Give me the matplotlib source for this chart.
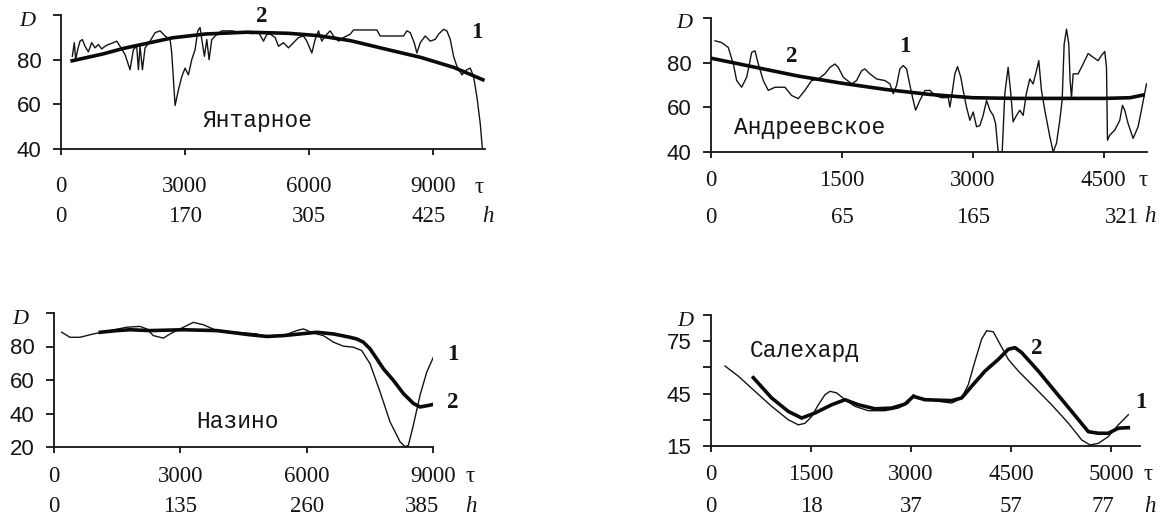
import matplotlib
matplotlib.use('Agg')
import matplotlib.pyplot as plt

# ---- data: thin curve (1) and thick curve (2) for each station ----
yant_t1 = [274, 322, 355, 403, 460, 516, 581, 661, 742, 823, 903, 984, 1064, 1145, 1266, 1347, 1427,
           1548, 1669, 1750, 1830, 1871, 1911, 1968, 2032, 2153, 2274, 2395, 2516, 2637, 2677, 2758,
           2838, 2919, 3000, 3080, 3161, 3242, 3306, 3362, 3403, 3467, 3524, 3580, 3645, 3726, 3887,
           4129, 4371, 4613, 4774, 4895, 4976, 5056, 5177, 5258, 5378, 5499, 5620, 5741, 5862, 5943,
           6064, 6144, 6225, 6306, 6386, 6507, 6588, 6709, 6830, 6991, 7072, 7314, 7636, 7717, 8039,
           8281, 8362, 8443, 8539, 8604, 8685, 8805, 8926, 9047, 9127, 9248, 9329, 9410, 9490, 9571,
           9692, 9813, 9894, 9974, 10055, 10136, 10184]
yant_d1 = [81.5, 87.6, 80, 84.5, 88.3, 89, 86, 83.5, 87.6, 85.3, 86.8, 84.8, 86, 86.8, 87.6, 88.3, 86,
           82.3, 75.5, 84.5, 86, 75.5, 86, 75.5, 85.3, 88.3, 92.1, 92.9, 90.6, 89.1, 83, 59.5,
           66.4, 72.4, 76.2, 73.2, 80, 84.5, 92.9, 94.4, 89.1, 81.5, 89, 80, 89, 90.6, 92.9,
           92.9, 92.1, 91.7, 92.3, 88.3, 91.3, 91.5, 89.9, 86, 87.6, 85.3, 87.6, 89.9, 90.6, 88.3,
           83, 89.1, 92.9, 88.3, 90.6, 92.9, 90.6, 88.3, 89.9, 91.4, 93.3, 93.3, 93.3, 90.6, 90.6,
           90.6, 92.9, 92.1, 87.6, 83, 87.6, 90.6, 88.3, 89.1, 91.4, 93.6, 92.9, 89.1, 81.5, 77,
           73.2, 75.5, 76.2, 72.4, 63.3, 51.2, 40.6]
yant_t2 = [270, 1000, 1500, 2000, 2700, 3500, 4500, 5500, 6200, 7000, 7900, 8700, 9500, 10200]
yant_d2 = [79.5, 82.5, 85, 87, 89.8, 91.5, 92.3, 91.8, 90.8, 88.5, 84.5, 81, 76.5, 71]

andr_t1 = [46, 122, 198, 256, 294, 351, 409, 466, 504, 542, 599, 656, 733, 847, 924, 1000, 1076, 1153,
           1229, 1305, 1363, 1420, 1458, 1515, 1611, 1668, 1725, 1763, 1820, 1897, 1992, 2050, 2088,
           2126, 2164, 2202, 2241, 2279, 2317, 2344, 2393, 2450, 2508, 2565, 2641, 2718, 2737, 2763,
           2794, 2824, 2862, 2889, 2927, 2966, 3004, 3042, 3080, 3118, 3157, 3195, 3233, 3260, 3290,
           3336, 3366, 3404, 3435, 3461, 3500, 3538, 3576, 3614, 3652, 3690, 3729, 3755, 3786, 3824,
           3882, 3920, 3958, 3996, 4023, 4046, 4073, 4099, 4114, 4130, 4149, 4206, 4263, 4321, 4378,
           4435, 4473, 4511, 4531, 4542, 4569, 4626, 4683, 4714, 4740, 4778, 4836, 4893, 4931, 4989]
andr_d1 = [89.8, 89, 86.8, 79.4, 72, 69, 73.5, 84.6, 85.3, 79.4, 72, 67.6, 69, 69, 65.3, 63.9, 67.6, 72,
           72.7, 75, 77.9, 79.4, 77.9, 73.5, 70.5, 72, 76.4, 77.2, 75, 72.7, 72, 70.5, 66.1,
           69.8, 77.2, 78.7, 77.2, 69.8, 63.1, 58.7, 63.1, 67.5, 67.6, 65.3, 64.3, 64.4, 60.1, 66.6,
           75, 78.2, 73.5, 67.6, 60.1, 54.2, 57.9, 51.3, 51.8, 56.4, 63.1, 58.7, 56.4, 52.8, 40,
           40, 66.1, 77.9, 66, 53.5, 56.4, 58.7, 56.4, 66.4, 72.7, 70.5, 76.4, 80.9, 67.6, 58.7,
           46.8, 40, 43.9, 54.2, 63.3, 88.3, 95, 88.3, 72, 64.4, 75, 75, 79.4, 84.1, 82.4,
           80.9, 83.2, 85, 77.9, 45.3, 47.6, 49.8, 54.2, 60.9, 58.7, 52.8, 46.1, 51.3, 58.7, 70.5]
andr_t2 = [0, 500, 1000, 1500, 2000, 2500, 3000, 3500, 4000, 4500, 4800, 4950]
andr_d2 = [82, 78, 74, 70.8, 68, 65.8, 64.3, 64, 64, 64, 64.3, 65.5]

naz_t1 = [182, 380, 617, 934, 1330, 1726, 2043, 2201, 2359, 2597, 2755, 3071, 3309, 3546, 3863, 4339,
          4814, 5052, 5448, 5764, 5922, 6160, 6397, 6635, 6872, 7109, 7307, 7505, 7743, 7980, 8218,
          8336, 8415, 8534, 8693, 8851, 9009]
naz_d1 = [88.5, 85.5, 85.5, 87.5, 89.5, 91.5, 92, 90.5, 86.5, 85, 87.5, 91.5, 94.4, 93, 89.5, 88.5,
          87.5, 85.5, 86.5, 89.5, 90.5, 88, 86.5, 82.6, 80.2, 79.6, 77.6, 69.7, 52.9, 35, 23.1,
          20.2, 21, 33.1, 51, 64.7, 73.6]
naz_t2 = [1100, 1488, 1805, 2280, 3071, 3863, 4655, 5052, 5448, 6239, 6635, 7030, 7188, 7346, 7505,
          7664, 7822, 8059, 8297, 8534, 8693, 8930, 9009]
naz_d2 = [88.5, 89.5, 90, 89.5, 90, 89.5, 87, 86, 86.5, 88.5, 87.5, 85.5, 84.5, 82.6, 78.6,
          72.7, 66.7, 59.8, 51.9, 46, 43.9, 45, 45.5]

sal_t1 = [210, 410, 660, 910, 1160, 1310, 1410, 1510, 1610, 1710, 1785, 1885, 2010, 2160, 2360, 2610,
          2810, 2960, 3035, 3110, 3410, 3610, 3760, 3860, 3960, 4060, 4135, 4235, 4335, 4460, 4610,
          4860, 5110, 5360, 5560, 5685, 5810, 5960, 6110, 6260]
sal_d1 = [60.8, 55, 46.3, 37.7, 30, 27.1, 28, 31.9, 38.6, 44.4, 46.3, 45.4, 41.5, 37.7, 35.2, 35.2,
          36.7, 39.6, 44.4, 42.5, 40.6, 39.6, 42.5, 50.2, 63.6, 76.2, 81, 80.4, 73.3, 64.6, 57.9,
          48.3, 38.6, 28.1, 18.5, 15.6, 16.5, 20.4, 27.1, 32.9]
sal_t2 = [635, 910, 1160, 1360, 1560, 1810, 2010, 2210, 2460, 2710, 2910, 3035, 3210, 3610, 3760, 3910,
          4110, 4310, 4460, 4560, 4660, 4910, 5160, 5410, 5660, 5810, 5960, 6110, 6260]
sal_d2 = [54.1, 42.5, 34.8, 31, 33.9, 38.6, 41.5, 38.6, 36.3, 36.7, 39, 43.4, 41.5, 41, 42.5, 49.2,
          57.9, 64.6, 70.4, 71.3, 68.5, 57.9, 46.3, 34.8, 23.2, 22.3, 22.3, 25.2, 25.5]

# tick labels: tau row and h row
yant_ticks, yant_tau, yant_h = [0, 3000, 6000, 9000], ['0', '3000', '6000', '9000'], ['0', '170', '305', '425']
andr_ticks, andr_tau, andr_h = [0, 1500, 3000, 4500], ['0', '1500', '3000', '4500'], ['0', '65', '165', '321']
naz_ticks, naz_tau, naz_h = [0, 3000, 6000, 9000], ['0', '3000', '6000', '9000'], ['0', '135', '260', '385']
sal_ticks, sal_tau, sal_h = [0, 1500, 3000, 4500, 6000], ['0', '1500', '3000', '4500', '5000'], ['0', '18', '37', '57', '77']

W, H = 1164, 518
SERIF = 'Liberation Serif'
SANS = 'Liberation Sans'
MONO = 'Liberation Mono'
INK = '#141414'

fig = plt.figure(figsize=(W / 100, H / 100), dpi=100)


def box(l, t, r, b):
    return [l / W, 1 - b / H, (r - l) / W, (b - t) / H]


def px(x, y):
    return x / W, 1 - y / H


def panel(rect, t1, d1, t2, d2, xmax, ylim, yticks, ylabels, ticks, tau, h,
          h_pos, row1, row2):
    ax = fig.add_axes(box(*rect))
    ax.plot(t1, d1, color=INK, lw=1.0)
    ax.plot(t2, d2, color='#0a0a0a', lw=2.6)
    ax.set_xlim(0, xmax)
    ax.set_ylim(*ylim)
    for s in ['top', 'right']:
        ax.spines[s].set_visible(False)
    for s in ['left', 'bottom']:
        ax.spines[s].set_linewidth(1.3)
        ax.spines[s].set_color(INK)
    ax.set_xticks(ticks)
    ax.set_xticklabels([])
    ax.set_yticks(yticks)
    ax.set_yticklabels(ylabels, family=SANS, fontsize=16, color=INK)
    ax.tick_params(axis='x', direction='out', length=4, width=1.3, color=INK)
    ax.tick_params(axis='y', direction='out', length=6, width=1.3, color=INK, pad=8)
    for x, lab in zip(ticks, tau):
        ax.annotate(lab, xy=(x, 0), xycoords=('data', 'axes fraction'),
                    xytext=(0, -row1 * 0.72), textcoords='offset points',
                    ha='center', va='center', family=SERIF, fontsize=16.5, color=INK)
    for x, lab in zip(h_pos, h):
        ax.annotate(lab, xy=(x, 0), xycoords=('data', 'axes fraction'),
                    xytext=(0, -row2 * 0.72), textcoords='offset points',
                    ha='center', va='center', family=SERIF, fontsize=16.5, color=INK)
    return ax


panel((61, 15, 485, 149), yant_t1, yant_d1, yant_t2, yant_d2, 10250, (40, 100),
      [40, 60, 80, 100], ['40', '60', '80', ''], yant_ticks, yant_tau, yant_h,
      [0, 3000, 6000, 8880], 38, 68)
panel((711, 18, 1147, 152), andr_t1, andr_d1, andr_t2, andr_d2, 4995, (40, 100),
      [40, 60, 80, 100], ['40', '60', '80', ''], andr_ticks, andr_tau, andr_h,
      [0, 1500, 3000, 4710], 28, 65)
panel((54, 313, 433, 447), naz_t1, naz_d1, naz_t2, naz_d2, 9000, (20, 100),
      [20, 40, 60, 80, 100], ['20', '40', '60', '80', ''], naz_ticks, naz_tau, naz_h,
      [0, 3000, 6000, 8730], 30, 60)
panel((711, 315, 1140, 446), sal_t1, sal_d1, sal_t2, sal_d2, 6435, (15, 90),
      [15, 30, 45, 60, 75, 90], ['15', '', '45', '', '75', ''], sal_ticks, sal_tau, sal_h,
      [0, 1500, 3000, 4500, 5880], 29, 61)

# axis names, curve numbers, station names (pixel positions)
def label(x, y, s, **kw):
    kw.setdefault('family', SERIF)
    kw.setdefault('fontsize', 16.5)
    fig.text(*px(x, y), s, ha='center', va='center', color=INK, **kw)


for x, y in [(27, 22), (684, 24), (20, 320), (685, 321)]:
    label(x, y, 'D', style='italic', fontsize=16)
for x, y in [(479, 187), (1143, 180), (470, 477), (1148, 475)]:
    label(x, y, 'τ')
for x, y in [(488, 217), (1150, 217), (471, 507), (1150, 507)]:
    label(x, y, 'h', style='italic')

label(262, 17, '2', weight='bold')
label(477, 33, '1', weight='bold')
label(792, 57, '2', weight='bold')
label(905, 46, '1', weight='bold')
label(453, 355, '1', weight='bold')
label(453, 402, '2', weight='bold')
label(1037, 348, '2', weight='bold')
label(1141, 402, '1', weight='bold')

label(257, 120, 'Янтарное', family=MONO, fontsize=16.5)
label(810, 127, 'Андреевское', family=MONO, fontsize=16.5)
label(238, 422, 'Назино', family=MONO, fontsize=16.5)
label(805, 350, 'Салехард', family=MONO, fontsize=16.5)

fig.savefig('out.png', dpi=100, facecolor='white')
